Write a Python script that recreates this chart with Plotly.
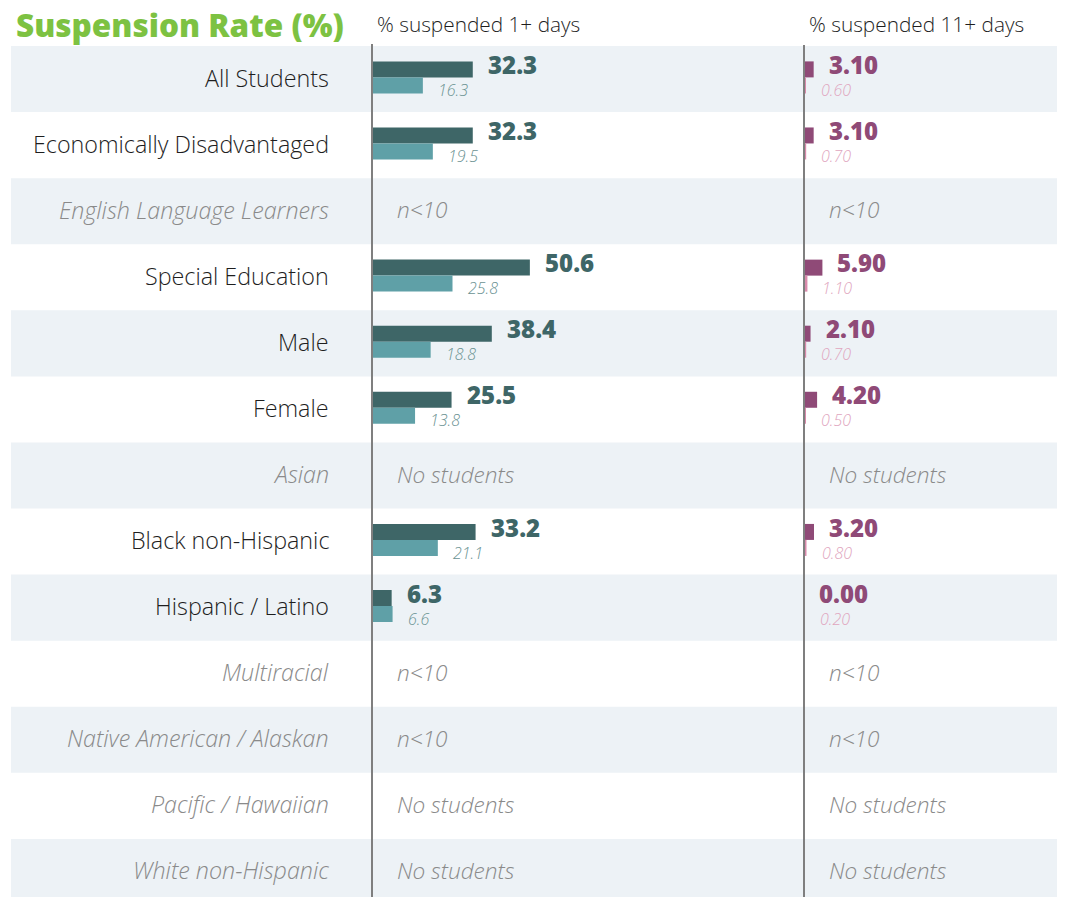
import plotly.graph_objects as go

# ---------------- data ----------------
categories = ["All Students", "Economically Disadvantaged", "English Language Learners",
              "Special Education", "Male", "Female", "Asian", "Black non-Hispanic",
              "Hispanic / Latino", "Multiracial", "Native American / Alaskan",
              "Pacific / Hawaiian", "White non-Hispanic"]
notes = ["", "", "n<10", "", "", "", "No students", "", "", "n<10", "n<10",
         "No students", "No students"]
school_1plus = [32.3, 32.3, None, 50.6, 38.4, 25.5, None, 33.2, 6.3, None, None, None, None]
compare_1plus = [16.3, 19.5, None, 25.8, 18.8, 13.8, None, 21.1, 6.6, None, None, None, None]
school_11plus = [3.10, 3.10, None, 5.90, 2.10, 4.20, None, 3.20, 0.00, None, None, None, None]
compare_11plus = [0.60, 0.70, None, 1.10, 0.70, 0.50, None, 0.80, 0.20, None, None, None, None]
title_text = "Suspension Rate (%)"
header_1 = "% suspended 1+ days"
header_11 = "% suspended 11+ days"

# ---------------- styles ----------------
OFF = 8                      # page body margin
W, H = 1065 - OFF, 897 - OFF # figure size
FONT = "Open Sans"
DARK_TEAL = "#3e6667"
LIGHT_TEAL = "#5fa0a7"
TEAL_TXT = "#6a9292"
PURPLE = "#8f4a77"
PINK = "#d98aab"
PINK_TXT = "#e0a5be"
BAND = "#edf2f6"
GRAY_TXT = "#8a8a8a"
PX_PER_UNIT = 3.12
LINE1_X = 372 - OFF
LINE2_X = 804 - OFF
TOP = 46 - OFF
BOTTOM = 897 - OFF + 8

def fx(px):
    return px / W

def fy(py):
    return 1 - py / H

rows = list(range(len(categories)))
row_h = (BOTTOM - TOP) / len(categories)
bar_w = 16 / row_h

fig = go.Figure()

def add_pair(school, comp, xa, c_dark, c_light):
    fig.add_trace(go.Bar(y=rows, x=school, orientation="h", xaxis=xa, yaxis="y",
                         marker=dict(color=c_dark, line=dict(width=0)),
                         width=bar_w, offset=-bar_w - 0.025, hoverinfo="skip", showlegend=False))
    fig.add_trace(go.Bar(y=rows, x=comp, orientation="h", xaxis=xa, yaxis="y",
                         marker=dict(color=c_light, line=dict(width=0)),
                         width=bar_w, offset=-0.025, hoverinfo="skip", showlegend=False))

add_pair(school_1plus, compare_1plus, "x", DARK_TEAL, LIGHT_TEAL)
add_pair(school_11plus, compare_11plus, "x2", PURPLE, PINK)

shapes = []
for i in rows:
    if i % 2 == 0:
        shapes.append(dict(type="rect", xref="paper", yref="y", x0=fx(11 - OFF), x1=fx(1062 - OFF),
                           y0=i - 0.5, y1=i + 0.5, fillcolor=BAND, line=dict(width=0),
                           layer="below"))
for lx, top in [(LINE1_X, 44 - OFF), (LINE2_X, 45 - OFF)]:
    shapes.append(dict(type="line", xref="paper", yref="paper", x0=fx(lx), x1=fx(lx),
                       y0=-0.02, y1=fy(top), line=dict(color="#7f7f7f", width=2)))

ann = []
for i, cat in enumerate(categories):
    italic = notes[i] != ""
    ann.append(dict(xref="paper", yref="y", x=fx(331 - OFF), y=i, xanchor="right", yanchor="middle",
                    yshift=1.5, text=f"<i>{cat}</i>" if italic else cat, showarrow=False,
                    font=dict(family=FONT, size=23.3, weight=300,
                              color=GRAY_TXT if italic else "#1e1e1e")))
    if italic:
        for xa in ["x", "x2"]:
            ann.append(dict(xref=xa, yref="y", x=0, y=i, xanchor="left", yanchor="middle",
                            xshift=23, yshift=1.5, text=f"<i>{notes[i]}</i>", showarrow=False,
                            font=dict(family=FONT, size=22.6, weight=300, color=GRAY_TXT)))
        continue
    for xa, sv, cv, fmt, cd, cl in [("x", school_1plus[i], compare_1plus[i], "{:.1f}", DARK_TEAL, TEAL_TXT),
                                    ("x2", school_11plus[i], compare_11plus[i], "{:.2f}", PURPLE, PINK_TXT)]:
        ann.append(dict(xref=xa, yref="y", x=sv, y=i, xanchor="left", yanchor="middle",
                        xshift=13, yshift=14.5, text=fmt.format(sv),
                        showarrow=False, font=dict(family=FONT, size=24, weight=800, color=cd)))
        ann.append(dict(xref=xa, yref="y", x=cv, y=i, xanchor="left", yanchor="middle",
                        xshift=13, yshift=-11, text="<i>" + fmt.format(cv) + "</i>",
                        showarrow=False, font=dict(family=FONT, size=16, weight=300, color=cl)))

ann.append(dict(xref="paper", yref="paper", x=fx(14 - OFF), y=fy(24 - OFF), xanchor="left",
                yanchor="middle", text=title_text, showarrow=False,
                font=dict(family=FONT, size=31.5, weight=800, color="#7dc242")))
ann.append(dict(xref="paper", yref="paper", x=fx(375 - OFF), y=fy(24 - OFF), xanchor="left",
                yanchor="middle", text=header_1, showarrow=False,
                font=dict(family=FONT, size=20.8, weight=300, color="#1e1e1e")))
ann.append(dict(xref="paper", yref="paper", x=fx(807 - OFF), y=fy(24 - OFF), xanchor="left",
                yanchor="middle", text=header_11, showarrow=False,
                font=dict(family=FONT, size=20.8, weight=300, color="#1e1e1e")))

fig.update_layout(
    width=W, height=H, margin=dict(l=0, r=0, t=0, b=0),
    paper_bgcolor="white", plot_bgcolor="rgba(0,0,0,0)",
    barmode="overlay", shapes=shapes, annotations=ann,
    xaxis=dict(domain=[fx(LINE1_X), fx(LINE2_X)], range=[0, (LINE2_X - LINE1_X) / PX_PER_UNIT],
               visible=False, fixedrange=True),
    xaxis2=dict(domain=[fx(LINE2_X), 1], range=[0, (W - LINE2_X) / PX_PER_UNIT],
                visible=False, fixedrange=True, anchor="y"),
    yaxis=dict(domain=[0, fy(TOP)], range=[len(categories) - 0.5 - 8 / row_h, -0.5],
               visible=False, fixedrange=True),
    font=dict(family=FONT),
)

fig.write_html("out.html")
